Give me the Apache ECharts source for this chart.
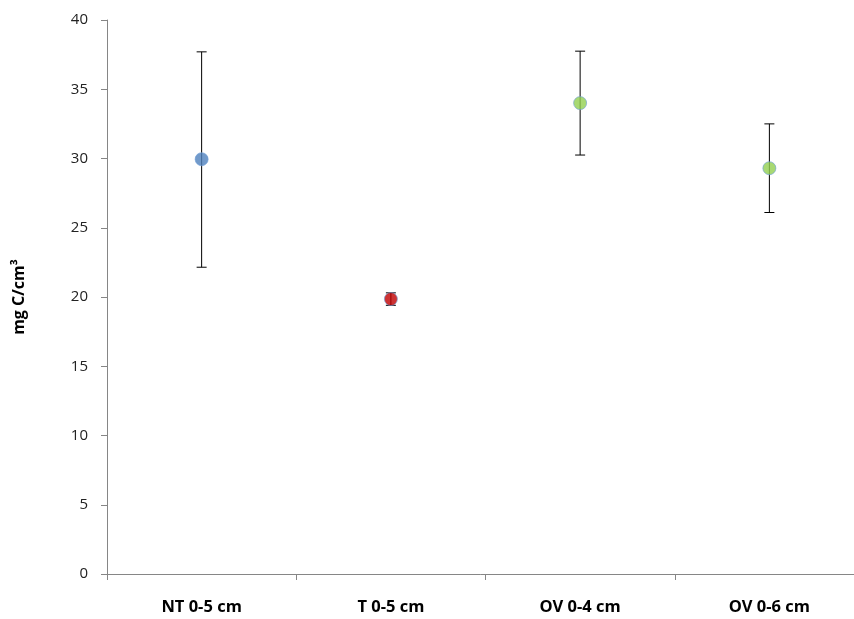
<!DOCTYPE html>
<html><head><meta charset="utf-8">
<script src="https://cdn.jsdelivr.net/npm/echarts@6/dist/echarts.min.js"></script>
<style>html,body{margin:0;padding:0;background:#fff}#c{width:854px;height:619px}</style>
</head><body><div id="c"></div>
<script>
const categories = ["NT 0-5 cm", "T 0-5 cm", "OV 0-4 cm", "OV 0-6 cm"];
const means = [29.95, 19.85, 34.0, 29.3];
const lows = [22.15, 19.4, 30.25, 26.1];
const highs = [37.7, 20.3, 37.75, 32.5];
const colors = ["#4F81BD", "#C00000", "#92D050", "#92D050"];
const yTicks = [0, 5, 10, 15, 20, 25, 30, 35, 40];

const chart = echarts.init(document.getElementById('c'));
const font = "'Open Sans', 'Liberation Sans', sans-serif";
chart.setOption({
  animation: false,
  grid: {left: 107, width: 757, top: 20, height: 554, outerBoundsMode: 'none', containLabel: false},
  xAxis: {
    type: 'category', data: categories, boundaryGap: true,
    axisLine: {lineStyle: {color: '#868686', width: 1}},
    axisTick: {show: true, length: 6, alignWithLabel: false, lineStyle: {color: '#868686'}},
    axisLabel: {color: '#000', fontFamily: font, fontWeight: 'bold', fontSize: 16.5, margin: 25}
  },
  yAxis: {
    type: 'value', min: 0, max: 40, interval: 5,
    name: 'mg C/cm³', nameLocation: 'middle', nameGap: 80, nameRotate: 90,
    nameTextStyle: {color: '#000', fontFamily: font, fontWeight: 'bold', fontSize: 16},
    axisLine: {show: true, lineStyle: {color: '#868686', width: 1}},
    axisTick: {show: true, length: 6, lineStyle: {color: '#868686'}},
    splitLine: {show: false},
    axisLabel: {color: '#222', fontFamily: font, fontSize: 15, margin: 19,
      formatter: v => yTicks.includes(v) ? String(v) : ''}
  },
  series: [
    {
      type: 'custom',
      z: 1,
      data: categories.map((c, i) => [i, lows[i], highs[i]]),
      renderItem: function (params, api) {
        const lo = api.coord([api.value(0), api.value(1)]);
        const hi = api.coord([api.value(0), api.value(2)]);
        const hw = 5;
        const st = {stroke: '#000', lineWidth: 1};
        return {type: 'group', children: [
          {type: 'line', shape: {x1: hi[0], y1: hi[1], x2: lo[0], y2: lo[1]}, style: st},
          {type: 'line', shape: {x1: hi[0]-hw, y1: hi[1], x2: hi[0]+hw, y2: hi[1]}, style: st},
          {type: 'line', shape: {x1: lo[0]-hw, y1: lo[1], x2: lo[0]+hw, y2: lo[1]}, style: st}
        ]};
      }
    },
    {
      type: 'scatter', z: 3, symbol: 'circle', symbolSize: 13,
      data: means.map((v, i) => ({value: [i, v], itemStyle: {color: colors[i], borderColor: '#6f9fd8', borderWidth: 0.8}}))
    }
  ]
});
</script></body></html>
